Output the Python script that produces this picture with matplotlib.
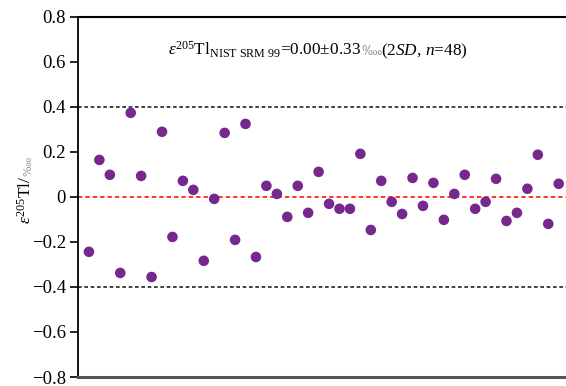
import matplotlib
matplotlib.use("Agg")
import matplotlib.pyplot as plt
import numpy as np

plt.rcParams['font.family'] = ['Liberation Serif', 'DejaVu Serif', 'DejaVu Sans']
plt.rcParams['mathtext.fontset'] = 'custom'
plt.rcParams['mathtext.rm'] = 'Liberation Serif'
plt.rcParams['mathtext.it'] = 'Liberation Serif:italic'
plt.rcParams['mathtext.fallback'] = 'stix'

# Data: epsilon205Tl of repeated NIST SRM 997 measurements
values = [-0.244, 0.164, 0.098, -0.338, 0.373, 0.093, -0.356, 0.289, -0.178, 0.071,
          0.031, -0.284, -0.009, 0.284, -0.191, 0.324, -0.267, 0.049, 0.013, -0.089,
          0.049, -0.071, 0.111, -0.031, -0.053, -0.053, 0.191, -0.147, 0.071, -0.022,
          -0.076, 0.084, -0.040, 0.062, -0.102, 0.013, 0.098, -0.053, -0.022, 0.080,
          -0.107, -0.071, 0.036, 0.187, -0.120, 0.058]
mean_value = 0.0
limits = [0.4, -0.4]
yticks = [-0.8, -0.6, -0.4, -0.2, 0, 0.2, 0.4, 0.6, 0.8]
ytick_labels = ['\u22120.8', '\u22120.6', '\u22120.4', '\u22120.2', '0', '0.2', '0.4', '0.6', '0.8']
annot_parts = [r'$\varepsilon^{205}$Tl$_{\mathrm{NIST\ SRM\ 99}}$=0.00±0.33', '\u2031',
               r'(2$SD$, $n$=48)']
ylabel_parts = [r'$\varepsilon^{205}$Tl/', '\u2031']

fig = plt.figure(figsize=(5.66, 3.86), dpi=100)
ax = fig.add_axes([78.5/566, 1-377/386, 1-78.5/566, (377-16.7)/386])

x = np.arange(1, len(values) + 1)
ax.scatter(x, values, s=58, color='#76288f', edgecolors='none', zorder=3)

for lim in limits:
    ax.axhline(lim, color='#222222', linestyle=(0, (2.2, 1.6)), linewidth=1.2, zorder=1)
ax.axhline(mean_value, color='#ff3322', linestyle=(0, (2.2, 1.6)), linewidth=1.4, zorder=1)

ax.set_xlim(0, 46.7)
ax.set_ylim(-0.8, 0.8)
ax.set_yticks(yticks)
ax.set_yticklabels(ytick_labels)
ax.set_xticks([])
ax.tick_params(axis='y', direction='out', length=6, width=1.2, labelsize=13.5, pad=3)

ax.spines['right'].set_visible(False)
ax.spines['top'].set_linewidth(1.5)
ax.spines['left'].set_linewidth(1.3)
ax.spines['bottom'].set_linewidth(2.2)
ax.spines['bottom'].set_color('#555555')

# annotation built from consecutive pieces sharing one baseline
base_y = 1 - 55 / 386
sizes = [12.4, 8.5, 12.4]
colors = ['black', '#8a8a8a', 'black']
prev = fig.text(168 / 566, base_y, annot_parts[0], ha='left', va='baseline', fontsize=sizes[0])
for part, fs, col in zip(annot_parts[1:], sizes[1:], colors[1:]):
    prev = ax.annotate(part, xy=(1, base_y), xycoords=(prev, 'figure fraction'),
                       ha='left', va='baseline', fontsize=fs, color=col)

# y label built from pieces, rotated
lab_x = 31 / 566
t1 = fig.text(lab_x, 1 - 224 / 386, ylabel_parts[0], rotation=90, rotation_mode='anchor',
              ha='left', va='baseline', fontsize=12.5)
ax.annotate(ylabel_parts[1], xy=(lab_x, 1), xycoords=('figure fraction', t1),
            rotation=90, rotation_mode='anchor', ha='left', va='baseline',
            fontsize=8, color='#8a8a8a')

fig.savefig('out.png', dpi=100)
